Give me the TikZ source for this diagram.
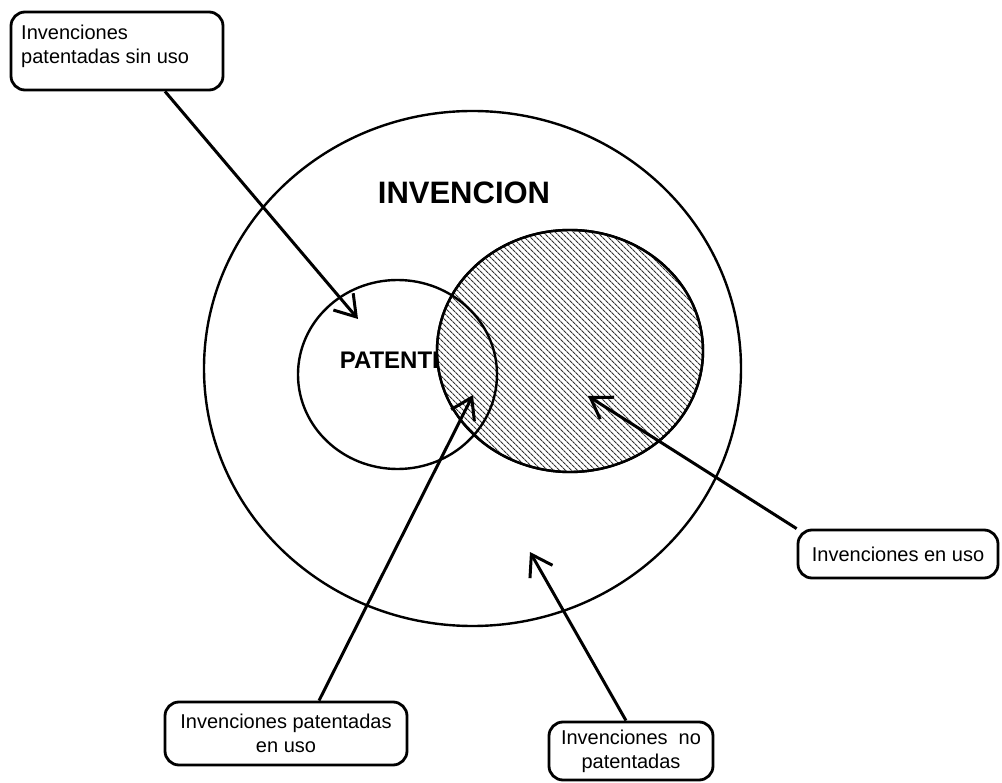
\documentclass[tikz,border=0pt]{standalone}
\usepackage{fontspec}
\setmainfont{Liberation Sans}
\usetikzlibrary{arrows.meta,patterns.meta,calc}

\begin{document}
\begin{tikzpicture}[x=1pt,y=-1pt,
  ring/.style={draw=black,line width=2.4pt},
  callout/.style={draw=black,line width=2.8pt,rounded corners=14pt,fill=white,inner sep=0pt,
                  font=\fontsize{20}{24}\selectfont,align=center},
  lbl/.style={font=\fontsize{20}{24}\selectfont,inner sep=0pt},
  pointer/.style={line width=3pt,-{Straight Barb[length=20pt,width=26pt]}},
  title/.style={font=\bfseries\fontsize{31}{36}\selectfont,inner sep=0pt},
  ]
\useasboundingbox (0,0) rectangle (1002,783);

% the whole set of inventions
\draw[ring] (472.5,368.5) ellipse [x radius=268.5, y radius=257.5];
\node[title] (invencion) at (464,193) {INVENCION};

% patents: label first, so the hatched set can hide its tail
\node[font=\bfseries\fontsize{24}{28}\selectfont,inner sep=0pt,anchor=base] (patente) at (394,369) {PATENTE};

% inventions in use (hatched)
\draw[ring,preaction={fill=white},
      pattern={Lines[angle=-45,distance=4pt,line width=1.2pt]},pattern color=black!80]
  (570,351) ellipse [x radius=133, y radius=121];
\draw[ring] (570,351) ellipse [x radius=133, y radius=121];

% patented inventions
\draw[ring] (397.5,374.5) ellipse [x radius=99.5, y radius=94.5];

% callouts
\node[callout,minimum width=212pt,minimum height=78pt] (b1) at (117,51) {};
\node[lbl,anchor=north west,align=left] (b1t) at (21,24.7) {Invenciones\\patentadas sin uso};
\node[callout,minimum width=200pt,minimum height=48pt] (b2) at (898,554) {Invenciones en uso};
\node[callout,minimum width=242pt,minimum height=63pt] (b3) at (286,733.5) {Invenciones patentadas\\en uso};
\node[callout,minimum width=164pt,minimum height=58pt] (b4) at (631,751) {Invenciones\hspace{0.55em}no\\patentadas};

% pointers
\coordinate (t1) at (358,319);
\coordinate (t2) at (473,395);
\coordinate (t3) at (588,396);
\coordinate (t4) at (530,552);
\draw[pointer] ([xshift=48pt]b1.south) -- (t1);
\draw[pointer] ([xshift=33pt]b3.north) -- (t2);
\draw[pointer] (b2.north west) -- (t3);
\draw[pointer] ([xshift=-5pt]b4.north) -- (t4);
\end{tikzpicture}
\end{document}
